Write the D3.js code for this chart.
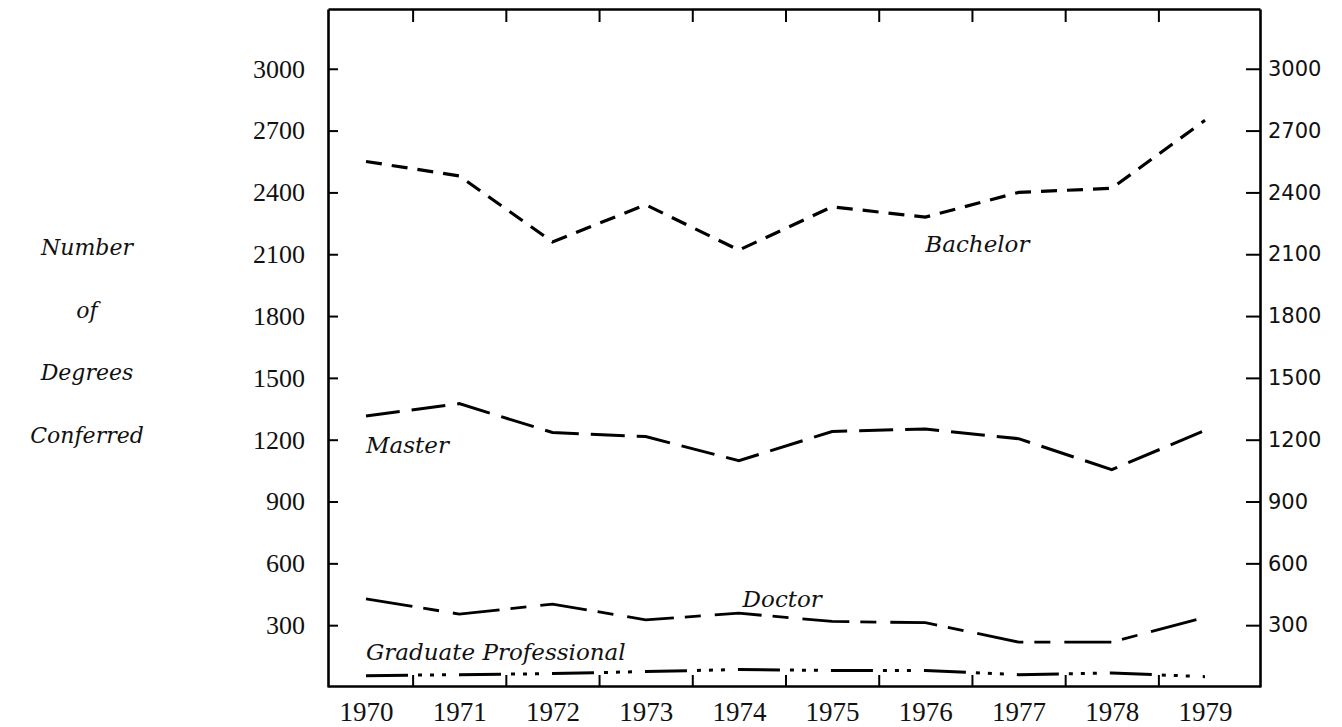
<!DOCTYPE html>
<html lang="en">
<head>
<meta charset="UTF-8">
<title>Number of Degrees Conferred, 1970-1979</title>
<script src="https://d3js.org/d3.v7.min.js"></script>
<style>
    body { margin: 0; background: #fff; }
    .frame path.domain { stroke: #000; stroke-width: 2.6; }
    .frame line { stroke: #000; stroke-width: 2; }
    .left-ax text, .year-ax text { font-family: "Liberation Serif", serif; fill: #111; }
    .right-ax text { font-family: "DejaVu Sans", sans-serif; fill: #111; }
    .lbl { font-family: "DejaVu Serif", serif; font-style: italic; fill: #111; }
</style>
</head>
<body>
<svg id="chart"></svg>
<script>
// data
const years = [1970, 1971, 1972, 1973, 1974, 1975, 1976, 1977, 1978, 1979];
const bachelor = [2550, 2480, 2160, 2340, 2120, 2330, 2280, 2400, 2420, 2750];
const master = [1315, 1375, 1235, 1215, 1098, 1240, 1252, 1205, 1055, 1245];
const doctor = [428, 354, 402, 326, 358, 318, 312, 218, 218, 338];
const gradProf = [55, 60, 65, 75, 85, 80, 80, 60, 68, 50];
const yTicks = [300, 600, 900, 1200, 1500, 1800, 2100, 2400, 2700, 3000];
const titleLines = ["Number", "of", "Degrees", "Conferred"];
// label anchors, in data units (year, value)
const seriesLabels = [
    { text: "Bachelor", year: 1976.0, value: 2110 },
    { text: "Master", year: 1970.0, value: 1134 },
    { text: "Doctor", year: 1974.04, value: 388 },
    { text: "Graduate Professional", year: 1970.0, value: 131 }
];

const W = 1342, H = 727;
const L = 328, R = 1260, T = 9, B = 686;

const svg = d3.select("#chart").attr("width", W).attr("height", H);

const x = d3.scaleLinear().domain([1970, 1979]).range([366, 1205]);
// same mapping, stretched to the frame edges
const xFull = x.copy().domain([x.invert(L), x.invert(R)]).range([L, R]);
const y = d3.scaleLinear().domain([0, 3290]).range([B + 1, T]);

const bounds = years.slice(0, -1).map(d => d + 0.5);
const fmt = d3.format("d");

// frame + ticks
svg.append("g").attr("class", "frame")
    .attr("transform", `translate(0,${B})`)
    .call(d3.axisBottom(xFull).tickValues(bounds).tickSize(-11).tickSizeOuter(0).tickFormat(""));

svg.append("g").attr("class", "frame")
    .attr("transform", `translate(0,${T})`)
    .call(d3.axisTop(xFull).tickValues(bounds).tickSize(-13).tickSizeOuter(0).tickFormat(""));

svg.append("g").attr("class", "frame left-ax")
    .attr("transform", `translate(${L},0)`)
    .call(d3.axisLeft(y).tickValues(yTicks).tickSize(-10).tickSizeOuter(0).tickPadding(23).tickFormat(fmt))
    .selectAll("text").attr("font-size", 26);

svg.append("g").attr("class", "frame right-ax")
    .attr("transform", `translate(${R},0)`)
    .call(d3.axisRight(y).tickValues(yTicks).tickSize(-14).tickSizeOuter(0).tickPadding(8).tickFormat(fmt))
    .selectAll("text").attr("font-size", 21);

// year labels (no tick marks, the marks sit between years)
const yearAx = svg.append("g").attr("class", "year-ax")
    .attr("transform", `translate(0,${B})`)
    .call(d3.axisBottom(x).tickValues(years).tickSize(0).tickPadding(16).tickFormat(fmt));
yearAx.select(".domain").remove();
yearAx.selectAll("text").attr("font-size", 27);

// series lines
const line = d3.line()
    .x((d, i) => x(years[i]))
    .y(d => y(d));

const series = [
    { values: bachelor, dash: "16 10", width: 3.2 },
    { values: master, dash: "34 12", width: 3 },
    { values: doctor, dash: "47 11 16 14", width: 2.8 },
    { values: gradProf, dash: "42 10 4 8 4 8 4 13", width: 3 }
];

svg.append("g").selectAll("path")
    .data(series)
    .join("path")
    .attr("d", d => line(d.values))
    .attr("fill", "none")
    .attr("stroke", "#000")
    .attr("stroke-width", d => d.width)
    .attr("stroke-dasharray", d => d.dash);

// series names
svg.append("g").selectAll("text")
    .data(seriesLabels)
    .join("text")
    .attr("class", "lbl")
    .attr("x", d => x(d.year))
    .attr("y", d => y(d.value))
    .attr("font-size", 23)
    .text(d => d.text);

// y title
svg.append("g").selectAll("text")
    .data(titleLines)
    .join("text")
    .attr("class", "lbl")
    .attr("text-anchor", "middle")
    .attr("x", 87)
    .attr("y", (d, i) => 255 + i * 62.5)
    .attr("font-size", 22)
    .text(d => d);
</script>
</body>
</html>
